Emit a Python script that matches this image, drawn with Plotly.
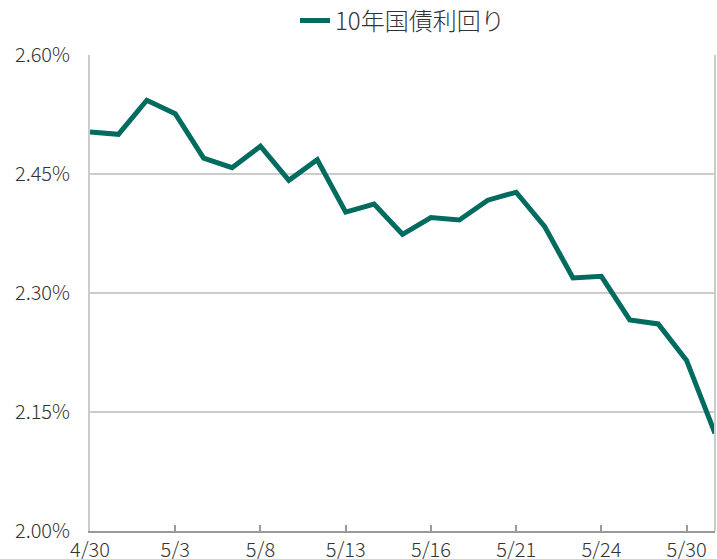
import plotly.graph_objects as go

dates = ["4/30", "5/1", "5/2", "5/3", "5/6", "5/7", "5/8", "5/9", "5/10", "5/13",
         "5/14", "5/15", "5/16", "5/17", "5/20", "5/21", "5/22", "5/23", "5/24",
         "5/28", "5/29", "5/30", "5/31"]
yields = [2.503, 2.500, 2.543, 2.526, 2.470, 2.458, 2.485, 2.442, 2.468, 2.402,
          2.412, 2.374, 2.395, 2.392, 2.417, 2.427, 2.384, 2.319, 2.321,
          2.266, 2.261, 2.215, 2.123]
tick_labels = ["4/30", "5/3", "5/8", "5/13", "5/16", "5/21", "5/24", "5/30"]
y_ticks = [2.00, 2.15, 2.30, 2.45, 2.60]
series_name = "10年国債利回り"

font_family = "Noto Sans CJK JP, Noto Sans, sans-serif"

fig = go.Figure()
fig.add_trace(go.Scatter(
    x=dates, y=yields, mode="lines", name=series_name,
    line=dict(color="#006B5E", width=5),
))

fig.update_layout(
    width=717, height=559,
    margin=dict(l=90, r=2, t=55, b=28, autoexpand=False),
    paper_bgcolor="white", plot_bgcolor="white",
    font=dict(family=font_family, size=20, color="#333333", weight=300),
    showlegend=True,
    legend=dict(orientation="h", x=0.5, xanchor="center",
                y=1 - 21 / 559, yanchor="middle", yref="container",
                font=dict(size=24, color="#333333", weight=300),
                bgcolor="rgba(0,0,0,0)"),
    xaxis=dict(
        type="category", range=[0, len(dates) - 1],
        tickmode="array", tickvals=tick_labels, ticktext=tick_labels,
        showgrid=False, showline=True, linecolor="#999999", linewidth=2,
        ticks="inside", ticklen=6, tickcolor="#999999", tickwidth=1.5,
        tickfont=dict(size=20, color="#333333", weight=300),
        ticklabelstandoff=0,
        zeroline=False, automargin=False,
    ),
    yaxis=dict(
        range=[2.0, 2.6], tickmode="array", tickvals=y_ticks,
        ticktext=[f"{v:.2f}%" for v in y_ticks],
        showgrid=True, gridcolor="#CCCCCC", gridwidth=1.5,
        showline=True, linecolor="#CCCCCC", linewidth=2,
        ticks="", ticklabelstandoff=14,
        tickfont=dict(size=20, color="#333333", weight=300),
        zeroline=False, automargin=False,
    ),
    shapes=[dict(type="line", xref="paper", yref="paper", x0=1, x1=1, y0=0, y1=1,
                 line=dict(color="#CCCCCC", width=2))],
)

fig.write_html("out.html", config={"displayModeBar": False},
               post_script="document.body.style.margin='0';document.body.style.overflow='hidden';")
